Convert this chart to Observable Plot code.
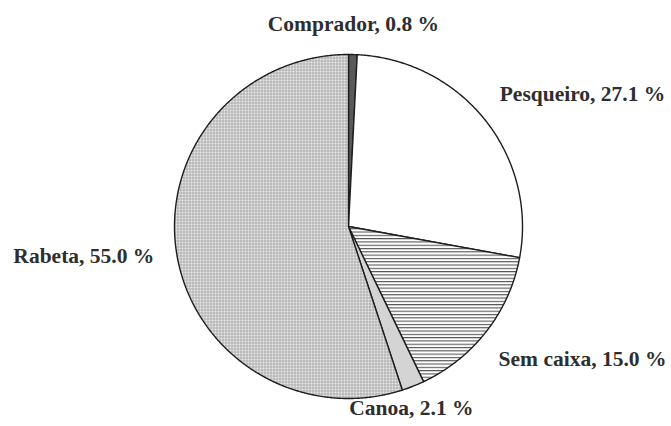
<!DOCTYPE html>
<html>
<head>
<meta charset="utf-8">
<script src="https://cdn.jsdelivr.net/npm/d3@7"></script>
<script src="https://cdn.jsdelivr.net/npm/@observablehq/plot@0.6"></script>
<style>
  html, body { margin: 0; padding: 0; background: #fff; }
  #chart svg { display: block; }
</style>
</head>
<body>
<div id="chart"></div>
<script>
// Data (clockwise from 12 o'clock)
const categories = ["Comprador", "Pesqueiro", "Sem caixa", "Canoa", "Rabeta"];
const shares = [0.8, 27.1, 15.0, 2.1, 55.0];

// Styles
const fills = ["#5a5a5a", "#ffffff", "url(#hatchH)", "url(#canoaFill)", "url(#stipple)"];
// Per-label nudges (pixels) relative to the outside-end anchor
const labelAnchor = ["middle", "start", "start", "middle", "end"];
const labelDx = [0, -3, -6, -10, 0];
const labelDy = [-8, -12, 14, 1, -1];

const total = d3.sum(shares);
const rows = [];
const labels = [];
let cum = 0;
categories.forEach((name, i) => {
  const a0 = (cum / total) * 2 * Math.PI;
  cum += shares[i];
  const a1 = (cum / total) * 2 * Math.PI;
  const n = Math.max(2, Math.ceil((a1 - a0) / (Math.PI / 360)));
  rows.push({name, fill: fills[i], x: 0, y: 0});
  for (let k = 0; k <= n; k++) {
    const a = a0 + (a1 - a0) * k / n;
    rows.push({name, fill: fills[i], x: Math.sin(a), y: Math.cos(a)});
  }
  rows.push({name, fill: fills[i], x: 0, y: 0});
  const am = (a0 + a1) / 2;
  labels.push({
    text: `${name}, ${shares[i].toFixed(1)} %`,
    x: 1.13 * Math.sin(am),
    y: 1.13 * Math.cos(am),
    i
  });
});

const textMarks = labels.map(l => Plot.text([l], {
  x: "x", y: "y", text: "text",
  textAnchor: labelAnchor[l.i],
  dx: labelDx[l.i], dy: labelDy[l.i],
  fontSize: 21.5, fontWeight: "bold",
  fontFamily: "Liberation Serif, Times New Roman, serif",
  fill: "#2e2e2e"
}));

const plot = Plot.plot({
  width: 671,
  height: 426,
  marginLeft: 174,
  marginRight: 149,
  marginTop: 54,
  marginBottom: 28,
  x: {domain: [-1, 1], axis: null},
  y: {domain: [-1, 1], axis: null},
  color: {type: "identity"},
  style: {background: "#fff", overflow: "visible"},
  marks: [
    Plot.line(rows, {
      x: "x", y: "y", z: "name", fill: "fill",
      stroke: "#1e1e1e", strokeWidth: 1.4, strokeLinejoin: "round", curve: "linear"
    }),
    ...textMarks
  ]
});

// Pattern definitions
const ns = "http://www.w3.org/2000/svg";
const defs = document.createElementNS(ns, "defs");
defs.innerHTML = `
  <pattern id="hatchH" patternUnits="userSpaceOnUse" width="6" height="3.3">
    <rect width="6" height="3.3" fill="#ffffff"/>
    <rect y="0" width="6" height="1.1" fill="#555555"/>
  </pattern>
  <pattern id="stipple" patternUnits="userSpaceOnUse" width="3" height="3">
    <rect width="3" height="3" fill="#eaeaea"/>
    <rect x="0" y="0" width="3" height="1" fill="#adadad"/>
    <rect x="0" y="0" width="1" height="3" fill="#adadad"/>
  </pattern>
  <pattern id="canoaFill" patternUnits="userSpaceOnUse" width="2" height="2">
    <rect width="2" height="2" fill="#d8d8d8"/>
    <rect width="1" height="1" fill="#c6c6c6"/>
  </pattern>`;
plot.insertBefore(defs, plot.firstChild);

document.getElementById("chart").appendChild(plot);
</script>
</body>
</html>
